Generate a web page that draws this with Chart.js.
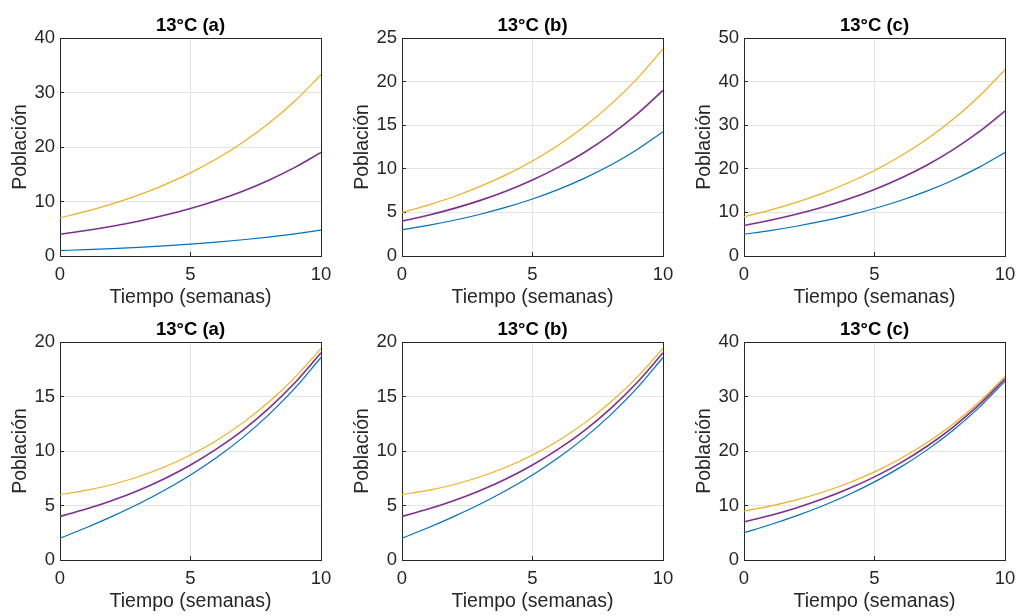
<!DOCTYPE html>
<html>
<head>
<meta charset="utf-8">
<script src="https://cdn.jsdelivr.net/npm/chart.js@4"></script>
<style>
  body { margin: 0; background: #fff; width: 1020px; height: 616px; overflow: hidden; position: relative; }
  canvas { position: absolute; }
</style>
</head>
<body>
<canvas id="c0" width="336" height="308" style="left:0px;top:0px"></canvas>
<canvas id="c1" width="336" height="308" style="left:342px;top:0px"></canvas>
<canvas id="c2" width="336" height="308" style="left:684px;top:0px"></canvas>
<canvas id="c3" width="336" height="308" style="left:0px;top:304px"></canvas>
<canvas id="c4" width="336" height="308" style="left:342px;top:304px"></canvas>
<canvas id="c5" width="336" height="308" style="left:684px;top:304px"></canvas>
<script>
// semanas
var tiempo = [0, 1, 2, 3, 4, 5, 6, 7, 8, 9, 10];

var titulos = ['13°C (a)', '13°C (b)', '13°C (c)', '13°C (a)', '13°C (b)', '13°C (c)'];
var yMax = [40, 25, 50, 20, 20, 40];
var yPaso = [10, 5, 10, 5, 5, 10];
var xPaso = 5;

// una fila por panel
var azul = [
	[1, 1.17, 1.37, 1.6, 1.87, 2.18, 2.55, 2.98, 3.48, 4.06, 4.75],
	[3, 3.51, 4.1, 4.79, 5.6, 6.54, 7.64, 8.93, 10.43, 12.19, 14.25],
	[5, 5.84, 6.83, 7.98, 9.33, 10.9, 12.74, 14.88, 17.39, 20.32, 23.75],
	[2, 2.96, 4, 5.13, 6.39, 7.8, 9.4, 11.23, 13.34, 15.76, 18.58],
	[2, 2.96, 4, 5.13, 6.39, 7.8, 9.4, 11.23, 13.34, 15.76, 18.58],
	[5, 6.47, 8.1, 9.92, 11.98, 14.33, 17.04, 20.16, 23.77, 27.96, 32.83]
];
var morado = [
	[4, 4.67, 5.46, 6.38, 7.46, 8.72, 10.19, 11.9, 13.91, 16.26, 19],
	[4, 4.67, 5.46, 6.38, 7.46, 8.72, 10.19, 11.9, 13.91, 16.26, 19],
	[7, 8.18, 9.56, 11.17, 13.06, 15.25, 17.83, 20.83, 24.35, 28.45, 33.25],
	[4, 4.67, 5.46, 6.38, 7.46, 8.72, 10.19, 11.9, 13.91, 16.26, 19],
	[4, 4.67, 5.46, 6.38, 7.46, 8.72, 10.19, 11.9, 13.91, 16.26, 19],
	[7, 8.18, 9.56, 11.17, 13.06, 15.25, 17.83, 20.83, 24.35, 28.45, 33.25]
];
var amarillo = [
	[7, 8.18, 9.56, 11.17, 13.06, 15.25, 17.83, 20.83, 24.35, 28.45, 33.25],
	[5, 5.84, 6.83, 7.98, 9.33, 10.9, 12.74, 14.88, 17.39, 20.32, 23.75],
	[9, 10.52, 12.29, 14.36, 16.79, 19.61, 22.92, 26.78, 31.3, 36.58, 42.75],
	[6, 6.39, 6.93, 7.64, 8.53, 9.63, 10.97, 12.58, 14.49, 16.75, 19.42],
	[6, 6.39, 6.93, 7.64, 8.53, 9.63, 10.97, 12.58, 14.49, 16.75, 19.42],
	[9, 9.89, 11.02, 12.43, 14.13, 16.17, 18.61, 21.5, 24.92, 28.94, 33.67]
];

var fuente = '"Liberation Sans", Arial, Helvetica, sans-serif';
var oscuro = '#262626';
var rejilla = '#e3e3e3';

function puntos(serie){
	return tiempo.map(function(t, i){ return {x: t, y: serie[i]}; });
}

function linea(serie, color, ancho){
	return {
		data: puntos(serie),
		borderColor: color,
		borderWidth: ancho,
		pointRadius: 0,
		fill: false,
		cubicInterpolationMode: 'monotone'
	};
}

for (var i = 0; i < 6; i++){
	(function(i){
		var ctx = document.getElementById('c' + i);
		new Chart(ctx, {
			type: 'line',
			data: {
				datasets: [
					linea(azul[i], '#0072BD', 1.2),
					linea(morado[i], '#7E2F8E', 1.6),
					linea(amarillo[i], '#EDB120', 1.2)
				]
			},
			options: {
				responsive: false,
				animation: false,
				events: [],
				layout: { padding: { left: 0, right: 15, top: 0, bottom: 0 } },
				plugins: {
					legend: { display: false },
					tooltip: { enabled: false },
					title: {
						display: true,
						fullSize: false,
						text: titulos[i],
						color: '#000',
						font: { family: fuente, size: 18.5, weight: 'bold', lineHeight: '20px' },
						padding: { top: 16, bottom: 2 }
					}
				},
				scales: {
					x: {
						type: 'linear',
						min: 0,
						max: 10,
						ticks: { stepSize: xPaso, color: oscuro, padding: 12, maxRotation: 0,
							font: { family: fuente, size: 18.5 } },
						grid: {
							tickLength: -4,
							tickColor: oscuro,
							color: function(c){ return c.tick && c.tick.value === 10 ? oscuro : rejilla; }
						},
						border: { color: oscuro, width: 1 },
						title: {
							display: true,
							text: 'Tiempo (semanas)',
							color: oscuro,
							font: { family: fuente, size: 19.5, lineHeight: '20px' },
							padding: { top: 0, bottom: 0 }
						},
						afterFit: function(s){ s.height = 52; s.paddingLeft = 0; s.paddingRight = 0; }
					},
					y: {
						min: 0,
						max: yMax[i],
						ticks: { stepSize: yPaso[i], color: oscuro, padding: 9,
							font: { family: fuente, size: 18.5 } },
						grid: {
							tickLength: -4,
							tickColor: oscuro,
							color: function(c){ return c.tick && c.tick.value === yMax[i] ? oscuro : rejilla; }
						},
						border: { color: oscuro, width: 1 },
						title: {
							display: true,
							text: 'Población',
							color: oscuro,
							font: { family: fuente, size: 19.5, lineHeight: '20px' },
							padding: { top: 11, bottom: 0 }
						},
						afterFit: function(s){ s.width = 60; }
					}
				}
			}
		});
	})(i);
}
</script>
</body>
</html>
